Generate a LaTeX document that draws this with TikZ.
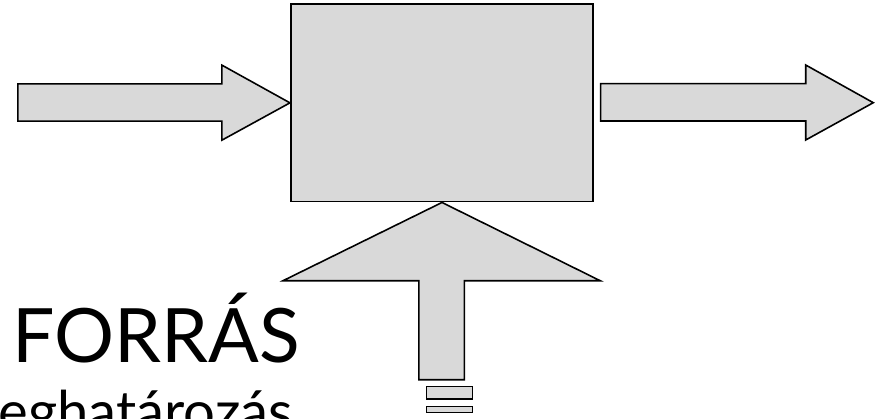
\documentclass[tikz,border=0pt]{standalone}
\usepackage{fontspec}
\setmainfont{Lato}
\usetikzlibrary{positioning}

\begin{document}
\begin{tikzpicture}[x=0.02cm,y=-0.02cm,
  block/.style={draw,fill=gray!30,line width=0.9pt,line join=miter},
  bigtext/.style={inner sep=0pt,font=\fontsize{42.7}{50}\selectfont},
  smalltext/.style={inner sep=0pt,font=\fontsize{32}{38}\selectfont}]
\useasboundingbox (0,0) rectangle (879,419);
\clip (0,0) rectangle (879,419);
\node[block,minimum width=6.052cm,minimum height=3.954cm] (proc) at (442,102.85) {};
% input arrow
\path[block] (proc.west) -- ++(-68,-37.7) -- ++(0,18.7) -- ++(-204,0) -- ++(0,37.3)
  -- ++(204,0) -- ++(0,19) -- cycle;
% output arrow
\coordinate (outtip) at (873.3,102.7);
\path[block] (outtip) -- ++(-67.6,-37.7) -- ++(0,18.7) -- ++(-205,0) -- ++(0,37.3)
  -- ++(205,0) -- ++(0,19) -- cycle;
% source arrow
\path[block] (proc.south) -- ++(158.3,78.3) -- ++(-135.9,0) -- ++(0,99) -- ++(-45.6,0)
  -- ++(0,-99) -- ++(-135.9,0) -- cycle;
\path[block] (426.7,386.7) rectangle (472.3,399);
\path[block] (426.7,406.7) rectangle (472.3,412.7);
\node[bigtext,anchor=base west] (src) at (12,362) {FORRÁS};
\node[smalltext,anchor=base east] (defn) at (293,431.5) {meghatározás};
\end{tikzpicture}
\end{document}
